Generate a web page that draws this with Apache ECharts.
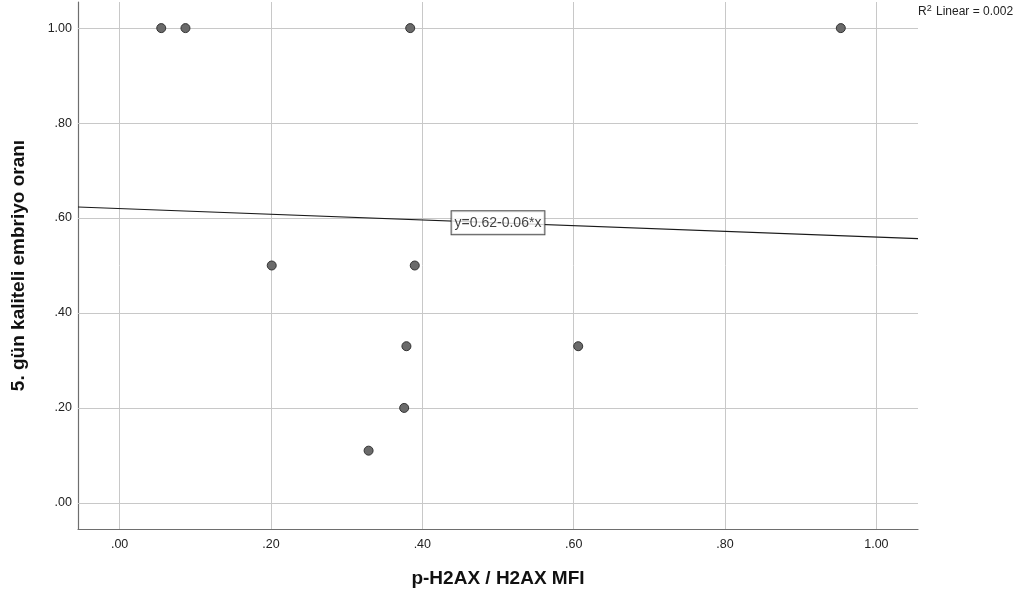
<!DOCTYPE html>
<html>
<head>
<meta charset="utf-8">
<script src="https://cdn.jsdelivr.net/npm/echarts@6/dist/echarts.min.js"></script>
<style>
  html, body { margin: 0; padding: 0; background: #fff; }
  #chart { width: 1028px; height: 597px; }
</style>
</head>
<body>
<div id="chart"></div>
<script>
// Observations: p-H2AX / H2AX MFI vs. day-5 good quality embryo ratio
const xValues = [0.055, 0.087, 0.384, 0.953, 0.201, 0.390, 0.379, 0.606, 0.376, 0.329];
const yValues = [1.00, 1.00, 1.00, 1.00, 0.50, 0.50, 0.33, 0.33, 0.20, 0.11];

// Axis ranges and tick values
const xRange = [-0.055, 1.055];
const yRange = [-0.055, 1.055];
const xTicks = [0, 0.2, 0.4, 0.6, 0.8, 1.0];
const yTicks = [0, 0.2, 0.4, 0.6, 0.8, 1.0];

// Linear fit (as stated on the chart)
const fitIntercept = 0.62;
const fitSlope = -0.06;
const fitLabelX = 0.5;
const rSquared = '0.002';

const fmt = v => {
  const s = Number(v).toFixed(2);
  return s.startsWith('0') ? s.slice(1) : (s.startsWith('-0') ? '-' + s.slice(2) : s);
};

const points = xValues.map((x, i) => [x, yValues[i]]);
const fitLine = xRange.map(x => [x, fitIntercept + fitSlope * x]);
const fitLabelPoint = [[fitLabelX, fitIntercept + fitSlope * fitLabelX]];

const gridColor = '#c8c8c8';
const font = 'Liberation Sans, Arial, sans-serif';

const chart = echarts.init(document.getElementById('chart'), null, { renderer: 'canvas' });
chart.setOption({
  animation: false,
  backgroundColor: '#ffffff',
  textStyle: { fontFamily: font },
  title: {
    text: 'R{sup|2} Linear = ' + rSquared,
    left: 918,
    top: 4,
    padding: 0,
    textStyle: {
      fontFamily: font,
      fontSize: 12,
      fontWeight: 'normal',
      color: '#222',
      rich: {
        sup: { fontSize: 9, verticalAlign: 'top', padding: [0, 1, 6, 0], fontFamily: font, color: '#222' }
      }
    }
  },
  grid: { left: 78, right: 110, top: 2, bottom: 68, containLabel: false },
  xAxis: {
    type: 'value',
    min: xRange[0],
    max: xRange[1],
    name: 'p-H2AX / H2AX MFI',
    nameLocation: 'middle',
    nameGap: 40,
    nameTextStyle: { fontFamily: font, fontSize: 19, fontWeight: 'bold', color: '#111' },
    axisLine: { show: true, onZero: false, lineStyle: { color: '#6e6e6e', width: 1.2 } },
    axisTick: { show: false },
    splitLine: { show: false },
    axisLabel: {
      customValues: xTicks,
      formatter: fmt,
      margin: 9,
      fontSize: 12.5,
      color: '#222',
      fontFamily: font
    }
  },
  yAxis: {
    type: 'value',
    min: yRange[0],
    max: yRange[1],
    name: '5. gün kaliteli embriyo oranı',
    nameLocation: 'middle',
    nameGap: 50,
    nameTextStyle: { fontFamily: font, fontSize: 19, fontWeight: 'bold', color: '#111' },
    axisLine: { show: true, onZero: false, lineStyle: { color: '#6e6e6e', width: 1.2 } },
    axisTick: { show: false },
    splitLine: { show: false },
    axisLabel: {
      customValues: yTicks,
      formatter: fmt,
      margin: 6,
      fontSize: 12.5,
      color: '#222',
      fontFamily: font
    }
  },
  series: [
    {
      // reference grid lines at the tick values
      type: 'line',
      data: [],
      silent: true,
      z: 1,
      markLine: {
        silent: true,
        z: 1,
        symbol: 'none',
        animation: false,
        label: { show: false },
        lineStyle: { color: gridColor, width: 1, type: 'solid' },
        emphasis: { disabled: true },
        data: xTicks.map(v => ({ xAxis: v })).concat(yTicks.map(v => ({ yAxis: v })))
      }
    },
    {
      type: 'line',
      data: fitLine,
      symbol: 'none',
      silent: true,
      z: 3,
      lineStyle: { color: '#1a1a1a', width: 1.1 }
    },
    {
      type: 'scatter',
      data: points,
      symbol: 'circle',
      symbolSize: 9,
      z: 4,
      itemStyle: { color: '#6a6a6a', borderColor: '#333', borderWidth: 1, opacity: 1 }
    },
    {
      type: 'scatter',
      data: fitLabelPoint,
      symbolSize: 0,
      silent: true,
      z: 5,
      label: {
        show: true,
        position: 'inside',
        formatter: 'y=' + fitIntercept.toFixed(2) + (fitSlope < 0 ? '-' : '+') + Math.abs(fitSlope).toFixed(2) + '*x',
        fontFamily: font,
        fontSize: 14,
        color: '#111',
        backgroundColor: '#ffffff',
        borderColor: '#222',
        borderWidth: 1,
        padding: [5, 3, 4, 3]
      }
    }
  ]
});
</script>
</body>
</html>
